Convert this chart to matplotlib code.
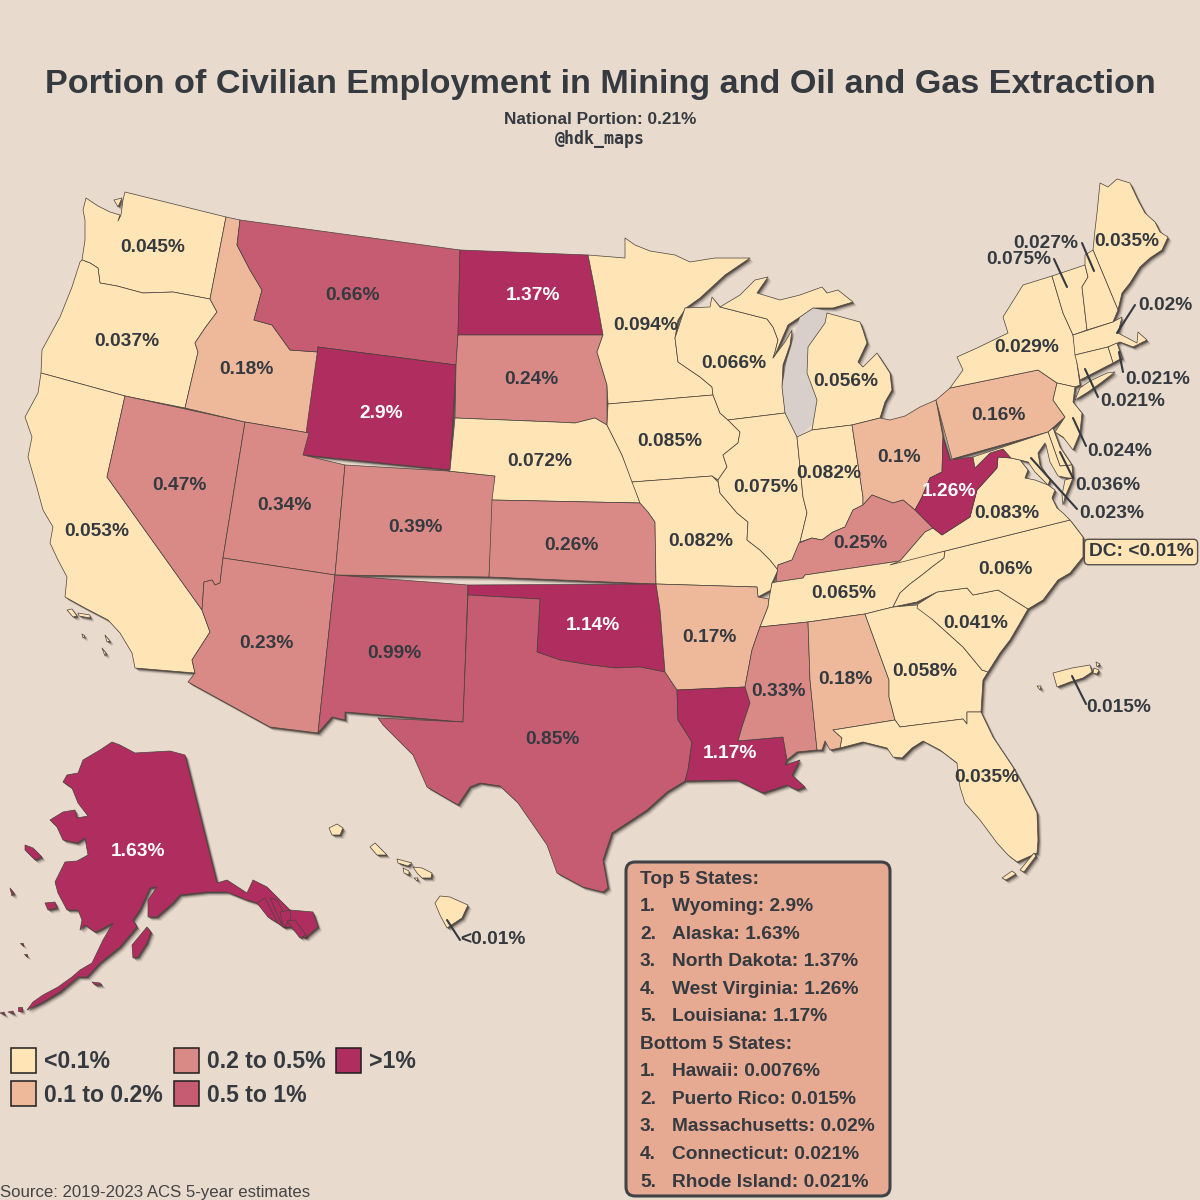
import matplotlib
matplotlib.use("Agg")
import matplotlib.pyplot as plt
from matplotlib.patches import Polygon, Rectangle, FancyBboxPatch

BG = "#E8DACD"
INK = "#343A40"
plt.rcParams["font.family"] = ["Liberation Sans", "DejaVu Sans"]

# ---- outline traces of each state (map units) ----
WA = [(86,198),(98,206),(110,212),(120,215),(118,221),(121,215),(123,200),(125,192),(226,217),(210,299),(173,292),(143,293),(117,286),(100,283),(98,268),(90,263),(82,260),(85,240),(85,220),(83,210)]
WA_ISLE = [(114,200),(122,198),(118,207)]
OR = [(80,262),(82,260),(90,263),(98,268),(100,283),(117,286),(143,293),(173,292),(210,299),(217,312),(205,328),(195,343),(198,352),(185,408),(125,396),(41,373),(42,350),(60,317),(72,287)]
CA = [(41,373),(125,396),(107,477),(202,610),(210,632),(192,660),(195,673),(135,668),(132,653),(120,633),(108,620),(85,608),(65,597),(67,577),(58,560),(50,543),(53,527),(43,510),(37,488),(28,457),(32,437),(25,417),(38,393)]
NV = [(125,396),(245,422),(223,558),(220,583),(215,585),(212,580),(204,582),(202,610),(107,477)]
ID = [(226,217),(240,220),(237,245),(250,270),(262,290),(254,320),(272,325),(290,350),(318,352),(309,433),(245,422),(185,408),(198,352),(195,343),(205,328),(217,312),(210,299)]
MT = [(240,220),(460,250),(458,335),(456,365),(318,347),(318,352),(290,350),(272,325),(254,320),(262,290),(250,270),(237,245)]
WY = [(318,347),(456,365),(450,470),(303,455)]
UT = [(245,422),(309,433),(303,455),(345,465),(335,575),(223,558)]
AZ = [(223,558),(335,575),(318,733),(270,727),(188,682),(195,673),(192,660),(210,632),(202,610),(204,582),(212,580),(215,585),(220,583)]
CO = [(345,465),(448,471),(495,476),(489,577),(335,575)]
NM = [(335,575),(468,585),(463,722),(345,712),(345,720),(332,717),(318,733)]
ND = [(460,250),(588,255),(595,290),(603,335),(458,335)]
SD = [(458,335),(603,335),(597,352),(607,385),(607,425),(595,418),(575,423),(555,422),(455,418),(456,365)]
NE = [(455,418),(555,422),(575,423),(595,418),(607,425),(622,455),(632,480),(640,503),(492,500),(495,476),(448,471),(450,470)]
KS = [(492,500),(640,503),(648,512),(655,522),(656,584),(489,577)]
OK = [(468,585),(656,584),(660,610),(665,672),(640,667),(615,668),(590,665),(560,660),(537,652),(540,599),(468,595)]
TX = [(468,595),(540,599),(537,652),(560,660),(590,665),(615,668),(640,667),(665,672),(677,690),(678,720),(692,742),(688,770),(685,781),(667,792),(647,810),(612,833),(603,860),(608,888),(603,892),(583,887),(557,873),(547,845),(518,803),(500,786),(480,783),(470,787),(458,805),(427,787),(413,755),(383,725),(378,718),(463,722)]
MN = [(588,255),(625,258),(625,238),(635,245),(650,251),(675,255),(690,262),(715,258),(750,258),(725,275),(700,298),(686,308),(678,320),(675,338),(678,362),(700,377),(712,387),(713,395),(608,404),(607,385),(597,352),(603,335),(595,290)]
IA = [(608,404),(713,395),(720,413),(728,420),(740,432),(738,443),(723,455),(727,467),(718,480),(712,476),(632,482),(622,455),(607,425)]
MO = [(632,482),(712,476),(718,482),(720,493),(737,513),(748,522),(747,540),(760,550),(770,560),(778,570),(772,583),(771,590),(758,597),(757,587),(656,584),(655,522),(648,512),(640,503)]
AR = [(656,584),(757,587),(758,597),(769,599),(768,607),(760,627),(752,650),(745,687),(677,690),(665,672),(660,610)]
LA = [(677,690),(745,687),(750,703),(742,727),(738,741),(783,737),(787,760),(785,765),(800,760),(792,775),(805,787),(797,790),(787,785),(763,793),(747,785),(737,780),(685,781),(688,770),(692,742),(678,720)]
WI = [(685,308),(710,307),(712,297),(720,307),(767,319),(773,327),(778,340),(775,352),(773,358),(785,342),(792,330),(790,345),(783,365),(782,387),(785,413),(728,420),(720,413),(713,395),(712,387),(700,377),(678,362),(675,338)]
IL = [(728,420),(785,413),(797,437),(803,497),(807,513),(800,542),(792,560),(778,565),(778,570),(770,560),(760,550),(747,540),(748,522),(737,513),(720,493),(718,480),(727,467),(723,455),(738,443),(740,432)]
MI_U = [(720,307),(740,295),(755,280),(768,277),(757,293),(780,300),(800,295),(822,287),(827,293),(838,290),(853,302),(833,308),(813,308),(800,317),(788,325),(775,355),(773,358),(775,352),(778,340),(773,327),(767,319)]
MI_L = [(827,313),(860,322),(863,330),(867,343),(858,362),(863,367),(877,353),(890,373),(892,390),(885,402),(880,418),(852,425),(812,430),(817,400),(807,373),(808,347),(825,323)]
IN = [(797,437),(812,430),(852,425),(863,497),(863,505),(853,510),(845,527),(833,532),(822,540),(812,538),(800,542),(807,513),(803,497)]
OH = [(852,425),(880,418),(890,420),(905,416),(920,407),(936,400),(943,437),(942,472),(930,478),(922,497),(915,510),(903,500),(893,503),(872,495),(863,505),(863,497)]
KY = [(778,565),(792,560),(799,543),(812,538),(822,540),(833,532),(845,527),(853,510),(863,505),(872,495),(893,503),(903,500),(915,510),(933,528),(925,532),(900,561),(805,575),(803,578),(776,582)]
TN = [(772,583),(776,582),(803,578),(805,575),(900,561),(945,551),(944,558),(932,567),(922,575),(910,584),(900,593),(893,607),(865,614),(808,622),(760,627),(768,607),(769,599)]
MS = [(760,627),(808,622),(810,680),(817,750),(797,752),(787,760),(783,737),(738,741),(742,727),(750,703),(745,687),(752,650)]
AL = [(808,622),(865,614),(889,680),(889,697),(895,720),(833,730),(842,738),(840,748),(830,750),(825,741),(822,750),(817,750),(810,680)]
GA = [(865,614),(893,607),(917,605),(933,620),(963,647),(982,670),(988,672),(983,680),(981,712),(967,712),(967,724),(963,719),(900,727),(895,720),(889,697),(889,680)]
FL = [(833,730),(895,720),(900,727),(963,719),(967,724),(967,712),(981,712),(993,737),(1013,767),(1030,798),(1037,813),(1038,840),(1037,853),(1017,862),(1008,855),(997,843),(980,820),(965,803),(960,787),(957,763),(940,750),(923,741),(912,748),(902,758),(893,757),(887,748),(863,742),(840,748),(842,738)]
FL_KEYS = [[(1002,878),(1012,871),(1016,874),(1006,880)],[(1020,870),(1034,853),(1036,856),(1024,872)]]
SC = [(918,604),(937,592),(967,588),(973,595),(998,590),(1028,609),(1020,623),(1010,640),(1000,653),(988,672),(982,670),(963,647),(933,620),(917,608)]
NC = [(945,551),(1070,520),(1083,537),(1083,557),(1070,573),(1058,580),(1043,600),(1028,609),(998,590),(973,595),(967,588),(937,592),(917,602),(893,607),(900,593),(910,584),(922,575),(932,567),(944,558)]
VA = [(890,565),(900,561),(925,532),(933,528),(942,535),(970,517),(977,490),(988,478),(997,468),(998,457),(1011,458),(1020,460),(1028,470),(1025,478),(1035,480),(1048,485),(1055,490),(1052,498),(1057,508),(1063,513),(1070,520),(945,551)]
VA_E = [(1073,478),(1068,490),(1065,497),(1063,505),(1062,495),(1065,480)]
WV = [(943,437),(950,460),(973,457),(975,468),(990,453),(1003,449),(1011,458),(998,457),(997,468),(988,478),(977,490),(970,517),(942,535),(933,528),(915,510),(922,497),(930,478),(942,472)]
PA = [(936,400),(950,388),(1038,370),(1057,383),(1053,400),(1065,417),(1048,432),(952,459)]
NY = [(950,388),(963,370),(957,357),(977,348),(1008,333),(1003,317),(1023,285),(1052,276),(1063,313),(1073,335),(1077,363),(1080,385),(1075,387),(1057,383),(1038,370)]
LI = [(1075,400),(1088,392),(1102,382),(1115,372),(1107,373),(1090,381),(1080,388)]
NJ = [(1057,383),(1075,387),(1073,402),(1082,413),(1080,433),(1073,450),(1063,437),(1055,432),(1065,417),(1053,400)]
VT = [(1052,276),(1085,265),(1088,277),(1082,287),(1087,330),(1073,335),(1063,313)]
NH = [(1085,265),(1085,255),(1093,250),(1118,310),(1113,322),(1087,330),(1082,287),(1088,277)]
ME = [(1093,250),(1095,230),(1097,213),(1100,183),(1108,187),(1117,179),(1130,183),(1138,200),(1145,213),(1155,222),(1160,232),(1168,237),(1162,250),(1150,258),(1140,267),(1130,283),(1122,293),(1118,310)]
MA = [(1073,335),(1113,322),(1122,317),(1118,333),(1137,343),(1138,332),(1147,340),(1133,347),(1120,342),(1108,347),(1075,355)]
CT = [(1075,355),(1108,347),(1113,363),(1080,380),(1077,363)]
RI = [(1108,347),(1117,343),(1122,358),(1113,363)]
DE = [(1048,432),(1053,428),(1060,447),(1072,465),(1060,466)]
MD = [(973,457),(1048,432),(1060,466),(1072,465),(1073,478),(1068,478),(1058,476),(1050,462),(1046,445),(1045,443),(1038,453),(1040,465),(1050,480),(1048,485),(1035,472),(1028,462),(1020,460),(1011,458),(1003,449),(990,453),(975,468)]
AK = [(63,782),(67,775),(78,773),(83,760),(100,750),(112,742),(120,745),(135,753),(170,751),(185,755),(217,883),(227,880),(247,893),(253,880),(267,887),(290,910),(313,912),(318,927),(305,938),(290,927),(283,927),(278,923),(257,903),(247,900),(227,892),(207,892),(180,895),(173,903),(157,917),(148,917),(148,900),(157,887),(150,888),(140,910),(133,920),(137,927),(120,947),(100,963),(87,977),(78,977),(60,992),(43,1002),(27,1010),(33,1002),(43,995),(58,987),(72,977),(80,970),(92,963),(103,940),(113,923),(100,930),(95,932),(85,925),(80,930),(82,920),(78,910),(67,910),(58,893),(55,882),(65,862),(77,861),(88,855),(85,838),(77,843),(63,840),(57,827),(50,820),(63,812),(75,810),(77,818),(88,816),(78,803),(72,788)]
AK_ISLANDS = [[(132,945),(147,927),(151,932),(147,943),(138,957),(133,958)],[(25,845),(33,848),(42,857),(35,860),(25,850)],[(45,903),(55,902),(57,908),(48,910)],[(10,888),(14,893),(12,896)],[(92,982),(100,983),(102,985),(95,985)],[(18,1007),(22,1007),(22,1011),(18,1011)],[(20,943),(23,943),(23,946)],[(24,954),(27,954),(27,957)],[(0,1013),(4,1012),(5,1015)],[(8,1012),(13,1011),(14,1014)]]
AK_SE = [[(257,903),(265,898),(278,923),(268,917)],[(270,898),(277,900),(285,915),(282,925)],[(280,912),(290,910),(291,918),(286,925),(283,927)],[(287,921),(295,920),(306,935),(300,938)]]
HI = [[(435,903),(440,896),(450,897),(468,905),(462,918),(447,928),(440,915)],[(413,867),(422,868),(432,873),(431,878),(422,878),(417,873)],[(397,859),(412,863),(408,866),(398,863)],[(403,868),(409,871),(409,875),(404,873)],[(370,847),(375,843),(387,855),(377,855)],[(329,828),(337,824),(343,828),(340,835),(332,835)],[(414,878),(418,878),(417,881)]]
PR = [(1053,673),(1072,668),(1090,665),(1092,672),(1083,678),(1070,682),(1057,687)]
PR_ISLANDS = [[(1094,668),(1099,670),(1097,674),(1093,673)],[(1096,662),(1100,664),(1097,667)],[(1037,686),(1041,686),(1040,690)]]
CA_ISLANDS = [[(67,610),(72,609),(77,616),(73,617)],[(78,613),(90,615),(90,618),(79,616)],[(82,634),(85,636),(83,638)],[(105,635),(110,641),(107,642)],[(102,648),(106,653),(105,656)]]
LAKE_MICHIGAN = [(785,413),(782,387),(787,360),(800,317),(813,308),(830,312),(825,323),(808,347),(807,373),(817,400),(813,423),(803,433),(797,437)]

# ---- values (percent) ----
STATE_SHAPES = {"WA":[WA,WA_ISLE],"OR":[OR],"CA":[CA]+CA_ISLANDS,"NV":[NV],"ID":[ID],"MT":[MT],"WY":[WY],"UT":[UT],"AZ":[AZ],"CO":[CO],"NM":[NM],"ND":[ND],"SD":[SD],"NE":[NE],"KS":[KS],"OK":[OK],"TX":[TX],"MN":[MN],"IA":[IA],"MO":[MO],"AR":[AR],"LA":[LA],"WI":[WI],"IL":[IL],"MI":[MI_U,MI_L],"IN":[IN],"OH":[OH],"KY":[KY],"TN":[TN],"MS":[MS],"AL":[AL],"GA":[GA],"FL":[FL]+FL_KEYS,"SC":[SC],"NC":[NC],"VA":[VA,VA_E],"WV":[WV],"PA":[PA],"NY":[NY,LI],"NJ":[NJ],"VT":[VT],"NH":[NH],"ME":[ME],"MA":[MA],"CT":[CT],"RI":[RI],"DE":[DE],"MD":[MD],"AK":[AK]+AK_ISLANDS+AK_SE,"HI":HI,"PR":[PR]+PR_ISLANDS}
STATE_CODES = ["WA","OR","CA","NV","ID","MT","WY","UT","AZ","CO","NM","ND","SD","NE","KS","OK","TX","MN","IA","MO","AR","LA","WI","IL","MI","IN","OH","KY","TN","MS","AL","GA","FL","SC","NC","VA","WV","PA","NY","ME","VT","NH","MA","RI","CT","NJ","DE","MD","PR","HI","AK"]
STATE_VALUES = [0.045,0.037,0.053,0.47,0.18,0.66,2.9,0.34,0.23,0.39,0.99,1.37,0.24,0.072,0.26,1.14,0.85,0.094,0.085,0.082,0.17,1.17,0.066,0.075,0.056,0.082,0.1,0.25,0.065,0.33,0.18,0.058,0.035,0.041,0.06,0.083,1.26,0.16,0.029,0.035,0.075,0.027,0.02,0.021,0.021,0.024,0.036,0.023,0.015,0.0076,1.63]
STATE_LABELS = ["0.045%","0.037%","0.053%","0.47%","0.18%","0.66%","2.9%","0.34%","0.23%","0.39%","0.99%","1.37%","0.24%","0.072%","0.26%","1.14%","0.85%","0.094%","0.085%","0.082%","0.17%","1.17%","0.066%","0.075%","0.056%","0.082%","0.1%","0.25%","0.065%","0.33%","0.18%","0.058%","0.035%","0.041%","0.06%","0.083%","1.26%","0.16%","0.029%","0.035%","0.075%","0.027%","0.02%","0.021%","0.021%","0.024%","0.036%","0.023%","0.015%","<0.01%","1.63%"]
LABEL_POS = [(153,246),(127,340),(97,530),(179,484),(246,367),(353,294),(381,412),(284,503),(266,642),(415,525),(394,651),(533,293),(531,378),(540,459),(571,543),(593,623),(552,738),(646,323),(670,439),(701,539),(709,636),(730,752),(734,361),(766,485),(846,380),(829,472),(899,455),(860,541),(844,592),(779,689),(845,678),(925,669),(987,775),(976,621),(1005,567),(1007,511),(949,490),(998,414),(1027,345),(1127,240),(1019,258),(1046,241),(1165,303),(1158,377),(1133,400),(1120,449),(1108,483),(1112,511),(1119,706),(493,937),(138,850)]
LEADERS = [((1082,243),(1094,271)),((1054,259),(1067,287)),((1135,305),(1117,333)),((1119,352),(1123,372)),((1085,369),(1098,397)),((1073,418),(1086,446)),((1060,452),(1073,478)),((1031,458),(1077,509)),((1072,676),(1086,704)),((447,920),(460,940))]

BIN_EDGES = [0.1,0.2,0.5,1.0]
BIN_COLORS = ["#FFE4B5","#EEB89B","#DA8A86","#C55C72","#B02D5F"]
BIN_LABELS = ["<0.1%","0.1 to 0.2%","0.2 to 0.5%","0.5 to 1%",">1%"]
TOP_TITLE = "Top 5 States:"
TOP_RANKS = ["Wyoming: 2.9%","Alaska: 1.63%","North Dakota: 1.37%","West Virginia: 1.26%","Louisiana: 1.17%"]
BOTTOM_TITLE = "Bottom 5 States:"
BOTTOM_RANKS = ["Hawaii: 0.0076%","Puerto Rico: 0.015%","Massachusetts: 0.02%","Connecticut: 0.021%","Rhode Island: 0.021%"]

def bin_color(v):
    for edge, color in zip(BIN_EDGES, BIN_COLORS):
        if v < edge:
            return color
    return BIN_COLORS[-1]

fig = plt.figure(figsize=(12, 12), dpi=100, facecolor=BG)
ax = fig.add_axes([0, 0, 1, 1])
ax.set_xlim(0, 1200)
ax.set_ylim(1200, 0)
ax.axis("off")

# soft drop shadow
for off, al in [(4,0.10),(3,0.18),(2,0.35),(1.2,0.5)]:
    for code in STATE_CODES:
        for poly in STATE_SHAPES[code]:
            ax.add_patch(Polygon([(x+off,y+off) for x,y in poly], closed=True, fc="#2A2420", ec="none", alpha=al, zorder=1))
ax.add_patch(Polygon(LAKE_MICHIGAN, closed=True, fc="#D8CFCA", ec="none", zorder=1.5))

for code, val in zip(STATE_CODES, STATE_VALUES):
    for poly in STATE_SHAPES[code]:
        ax.add_patch(Polygon(poly, closed=True, fc=bin_color(val), ec="#4A433D", lw=0.5, joinstyle="round", zorder=2))

for (a, b) in LEADERS:
    ax.plot([a[0], b[0]], [a[1], b[1]], color=INK, lw=1.5, solid_capstyle="round", zorder=3)

for lab, val, (x, y) in zip(STATE_LABELS, STATE_VALUES, LABEL_POS):
    ax.text(x, y+2, lab, ha="center", va="center", fontsize=13.8, fontweight="bold",
            color="white" if val > 1 else INK, zorder=4)

ax.text(1141, 552, "DC: <0.01%", ha="center", va="center", fontsize=13.8, fontweight="bold", color=INK, zorder=5,
        bbox=dict(boxstyle="round,pad=0.22", fc=BIN_COLORS[0], ec="#55504A", lw=1))

ax.text(600, 85, "Portion of Civilian Employment in Mining and Oil and Gas Extraction", ha="center", va="center",
        fontsize=24.55, fontweight="bold", color=INK)
ax.text(600, 120, "National Portion: 0.21%", ha="center", va="center", fontsize=12.4, fontweight="bold", color=INK)
ax.text(600, 139, "@hdk_maps", ha="center", va="center", fontsize=12, fontweight="bold", color=INK, family="DejaVu Sans Mono")
ax.text(0, 1192, "Source: 2019-2023 ACS 5-year estimates", ha="left", va="center", fontsize=12.1, color="#444444")

# legend
swatches = [(11,1048),(11,1081),(174,1048),(174,1081),(336,1048)]
for (sx, sy), col, lab in zip(swatches, BIN_COLORS, BIN_LABELS):
    ax.add_patch(Rectangle((sx, sy), 25, 25, fc=col, ec="#1E1E1E", lw=1.1, zorder=3))
    ax.text(sx+33, sy+14, lab, ha="left", va="center", fontsize=16.6, fontweight="bold", color=INK)

# ranking box
ax.add_patch(FancyBboxPatch((632, 868), 252, 322, boxstyle="round,pad=6,rounding_size=9", fc="#E6A992", ec="#3F4348", lw=2.2, zorder=3))
ys = [879 + i*27.55 for i in range(12)]
ax.text(640, ys[0], TOP_TITLE, ha="left", va="center", fontsize=13.8, fontweight="bold", color=INK, zorder=4)
ax.text(640, ys[6], BOTTOM_TITLE, ha="left", va="center", fontsize=13.8, fontweight="bold", color=INK, zorder=4)
for offset, rows in ((1, TOP_RANKS), (7, BOTTOM_RANKS)):
    for i, row in enumerate(rows):
        ax.text(640, ys[offset+i], f"{i+1}.", ha="left", va="center", fontsize=13.8, fontweight="bold", color=INK, zorder=4)
        ax.text(672, ys[offset+i], row, ha="left", va="center", fontsize=13.8, fontweight="bold", color=INK, zorder=4)

fig.savefig("out.png", dpi=100, facecolor=BG)
